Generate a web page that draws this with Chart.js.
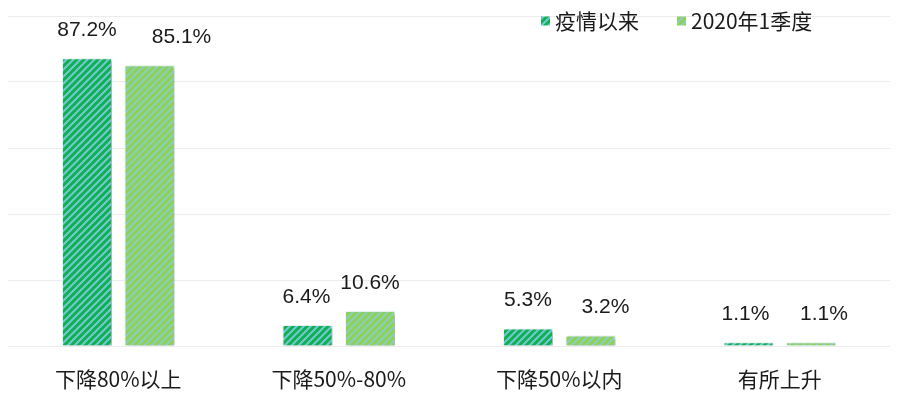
<!DOCTYPE html>
<html>
<head>
<meta charset="utf-8">
<script src="https://cdn.jsdelivr.net/npm/chart.js@4.4.0/dist/chart.umd.min.js"></script>
<style>
html, body { margin: 0; padding: 0; background: #fff; }
#wrap { width: 907px; height: 406px; }
</style>
</head>
<body>
<div id="wrap"><canvas id="chart"></canvas></div>
<script>
// chart data
const categories = ['下降80%以上', '下降50%-80%', '下降50%以内', '有所上升'];
const seriesNames = ['疫情以来', '2020年1季度'];
const sinceOutbreak = [87.2, 6.4, 5.3, 1.1];
const firstQuarter = [85.1, 10.6, 3.2, 1.1];

const cjkFont = "'Noto Sans CJK SC', sans-serif";
const numFont = "'Liberation Sans', Arial, sans-serif";
const textColor = '#1a1a1a';

const canvas = document.getElementById('chart');
const ctx = canvas.getContext('2d');

// diagonal striped fill like the hatched bars
function stripes(base, line) {
  const s = 7;
  const tile = document.createElement('canvas');
  tile.width = s; tile.height = s;
  const g = tile.getContext('2d');
  g.fillStyle = base;
  g.fillRect(0, 0, s, s);
  g.strokeStyle = line;
  g.lineWidth = 2;
  g.beginPath();
  g.moveTo(-1, 1); g.lineTo(1, -1);
  g.moveTo(0, s); g.lineTo(s, 0);
  g.moveTo(s - 1, s + 1); g.lineTo(s + 1, s - 1);
  g.stroke();
  return ctx.createPattern(tile, 'repeat');
}

const darkFill = stripes('#0fb050', '#74c8d4');
const lightFill = stripes('#92d050', '#86d0c4');

const barShadow = {
  id: 'barShadow',
  beforeDatasetsDraw(chart) {
    const c = chart.ctx;
    c.save();
    c.shadowColor = 'rgba(0,0,0,0.3)';
    c.shadowBlur = 4;
    c.shadowOffsetX = 3;
    c.shadowOffsetY = 2;
  },
  afterDatasetsDraw(chart) {
    chart.ctx.restore();
  }
};

const valueLabels = {
  id: 'valueLabels',
  afterDraw(chart, args, opts) {
    const c = chart.ctx;
    c.save();
    c.font = '21px ' + numFont;
    c.fillStyle = textColor;
    c.textAlign = 'center';
    c.textBaseline = 'middle';
    chart.data.datasets.forEach((ds, i) => {
      const nudge = opts.nudge[i] || [];
      chart.getDatasetMeta(i).data.forEach((bar, j) => {
        c.fillText(ds.data[j].toFixed(1) + '%', bar.x + (nudge[j] || 0), bar.y - opts.gap);
      });
    });
    c.restore();
  }
};

const topLegend = {
  id: 'topLegend',
  afterDraw(chart, args, opts) {
    const c = chart.ctx;
    c.save();
    c.font = '21px ' + cjkFont;
    c.textBaseline = 'middle';
    let x = chart.chartArea.right - opts.fromRight;
    chart.data.datasets.forEach(ds => {
      c.fillStyle = ds.backgroundColor;
      c.fillRect(x, opts.y - 4.5, 9, 9);
      c.fillStyle = textColor;
      c.fillText(ds.label, x + 14, opts.y);
      x += 14 + c.measureText(ds.label).width + 38;
    });
    c.restore();
  }
};

new Chart(canvas, {
  type: 'bar',
  data: {
    labels: categories,
    datasets: [
      { label: seriesNames[0], data: sinceOutbreak, backgroundColor: darkFill },
      { label: seriesNames[1], data: firstQuarter, backgroundColor: lightFill }
    ]
  },
  options: {
    responsive: true,
    maintainAspectRatio: false,
    animation: false,
    layout: { padding: { left: 8, right: 17, top: 16, bottom: 0 } },
    datasets: {
      bar: {
        borderColor: 'rgba(235,250,245,0.9)',
        borderWidth: 1,
        barPercentage: 0.8,
        categoryPercentage: 0.567
      }
    },
    scales: {
      x: {
        grid: { display: false, drawTicks: false },
        border: { display: false },
        ticks: { color: textColor, padding: 20, font: { family: cjkFont, size: 21 } },
        afterFit(scale) { scale.height = 60; }
      },
      y: {
        min: 0,
        max: 100,
        ticks: { display: false, stepSize: 20 },
        grid: { color: '#ececec', drawTicks: false },
        border: { display: false }
      }
    },
    plugins: {
      legend: { display: false },
      tooltip: { enabled: false },
      valueLabels: { gap: 28, nudge: [[0, -1, 0, -3], [32, 0, 15, 13]] },
      topLegend: { fromRight: 349, y: 21 }
    }
  },
  plugins: [barShadow, valueLabels, topLegend]
});
</script>
</body>
</html>
